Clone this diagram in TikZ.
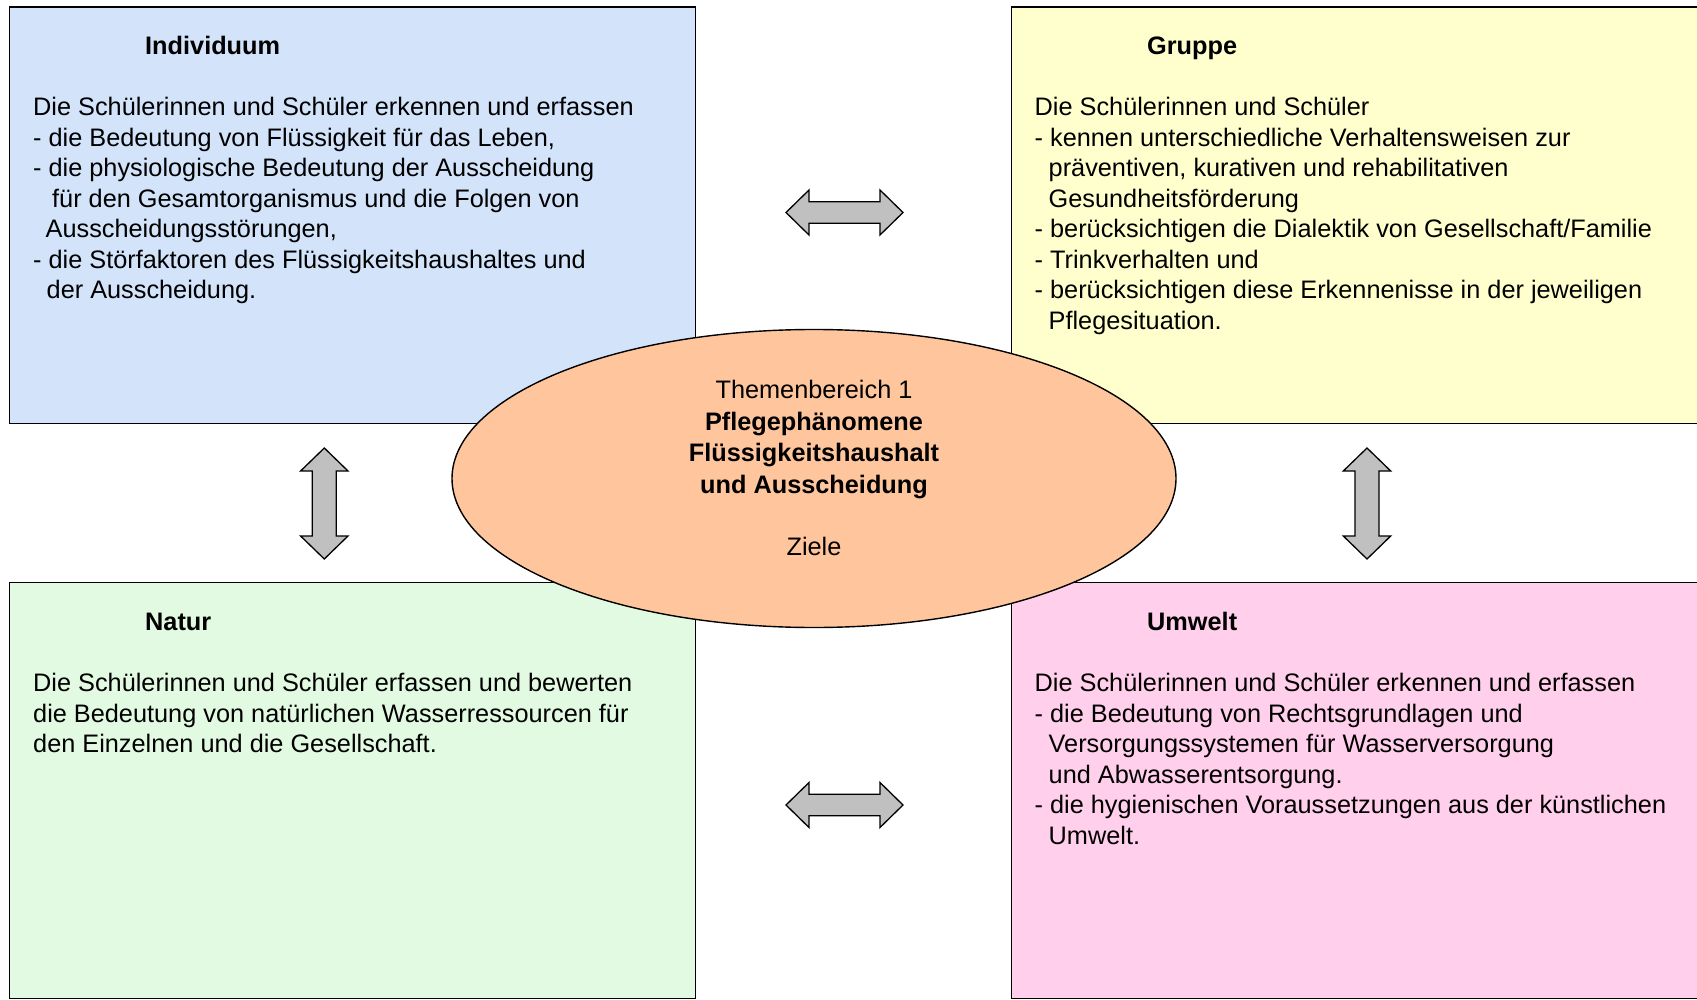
\documentclass[tikz,border=0pt]{standalone}
\usepackage{fontspec}
\setmainfont{Liberation Sans}
\usetikzlibrary{shapes.geometric}
\definecolor{cblue}{RGB}{210,227,250}
\definecolor{cyellow}{RGB}{255,255,205}
\definecolor{cgreen}{RGB}{226,250,226}
\definecolor{cpink}{RGB}{255,207,235}
\definecolor{cpeach}{RGB}{255,198,158}
\definecolor{cgray}{RGB}{192,192,192}
\newcommand\ctrline[1]{\hbox to 420pt{\hfil #1\hfil}}
\tikzset{
  box/.style={draw=black, line width=1.4pt, anchor=north west, inner sep=0pt, minimum width=686pt, minimum height=416.5pt},
  txt/.style={inner sep=0pt, font={\fontsize{25.3pt}{30.5pt}\selectfont}, anchor=base west},
  ttl/.style={inner sep=0pt, font={\fontsize{25.3pt}{30.5pt}\selectfont\bfseries}, anchor=base west},
  blockarrow/.style={draw=black, fill=cgray, line width=1.3pt, line join=miter},
  harr/.pic={\draw[blockarrow] (-58.5,0) -- (-35.5,-22.5) -- (-35.5,-10.8) -- (35.5,-10.8) -- (35.5,-22.5) -- (58.5,0) -- (35.5,22.5) -- (35.5,10.8) -- (-35.5,10.8) -- (-35.5,22.5) -- cycle;},
  varr/.pic={\draw[blockarrow] (0,-55.5) -- (23.7,-32.5) -- (12,-32.5) -- (12,32.5) -- (23.7,32.5) -- (0,55.5) -- (-23.7,32.5) -- (-12,32.5) -- (-12,-32.5) -- (-23.7,-32.5) -- cycle;}
}
\begin{document}
\begin{tikzpicture}[x=1pt,y=-1pt]
\useasboundingbox (0,0) rectangle (1697,1000);
\fill[white] (0,0) rectangle (1697,1000);
\begin{scope}
\clip (0,0) rectangle (1697,1000);
\node[box, fill=cblue] (ind) at (9,6.5) {};
\node[box, fill=cyellow, minimum width=700pt] (grp) at (1011,6.5) {};
\node[box, fill=cgreen, minimum height=416pt] (nat) at (9,582) {};
\node[box, fill=cpink, minimum width=700pt, minimum height=416pt] (umw) at (1011,582) {};

\pic (a1) at (844.5,212.5) {harr};
\pic (a2) at (844.5,805) {harr};
\pic (a3) at (324.3,503.5) {varr};
\pic (a4) at (1367,503.5) {varr};

\node[ellipse, draw=black, line width=1.4pt, fill=cpeach, inner sep=0pt, minimum width=724pt, minimum height=298pt] (ell) at (814,478.5) {};
\end{scope}

\node[ttl] (indt) at (145,54.5) {Individuum};
\node[txt] (indb) at (33,116) {\vtop{%
\hbox{Die Schülerinnen und Schüler erkennen und erfassen}
\hbox{- die Bedeutung von Flüssigkeit für das Leben,}
\hbox{- die physiologische Bedeutung der Ausscheidung}
\hbox{\hspace*{19pt}für den Gesamtorganismus und die Folgen von}
\hbox{\hspace*{12.5pt}Ausscheidungsstörungen,}
\hbox{- die Störfaktoren des Flüssigkeitshaushaltes und}
\hbox{\hspace*{13.5pt}der Ausscheidung.}}};

\node[ttl] (grpt) at (1147,54.5) {Gruppe};
\node[txt] (grpb) at (1034.5,116) {\vtop{%
\hbox{Die Schülerinnen und Schüler}
\hbox{- kennen unterschiedliche Verhaltensweisen zur}
\hbox{\hspace*{14pt}präventiven, kurativen und rehabilitativen}
\hbox{\hspace*{14pt}Gesundheitsförderung}
\hbox{- berücksichtigen die Dialektik von Gesellschaft/Familie}
\hbox{- Trinkverhalten und}
\hbox{- berücksichtigen diese Erkennenisse in der jeweiligen}
\hbox{\hspace*{14pt}Pflegesituation.}}};

\node[ttl] (natt) at (145,630) {Natur};
\node[txt] (natb) at (33,691.5) {\vtop{%
\hbox{Die Schülerinnen und Schüler erfassen und bewerten}
\hbox{die Bedeutung von natürlichen Wasserressourcen für}
\hbox{den Einzelnen und die Gesellschaft.}}};

\node[ttl] (umwt) at (1147,630) {Umwelt};
\node[txt] (umwb) at (1034.5,691.5) {\vtop{%
\hbox{Die Schülerinnen und Schüler erkennen und erfassen}
\hbox{- die Bedeutung von Rechtsgrundlagen und}
\hbox{\hspace*{14pt}Versorgungssystemen für Wasserversorgung}
\hbox{\hspace*{14pt}und Abwasserentsorgung.}
\hbox{- die hygienischen Voraussetzungen aus der künstlichen}
\hbox{\hspace*{14pt}Umwelt.}}};

\node[inner sep=0pt, anchor=base, font={\fontsize{25.3pt}{31.4pt}\selectfont}] (ellt) at (814,398.8) {\vtop{%
\ctrline{Themenbereich 1}
\ctrline{\bfseries Pflegephänomene}
\ctrline{\bfseries Flüssigkeitshaushalt}
\ctrline{\bfseries und Ausscheidung}
\ctrline{}
\ctrline{Ziele}}};
\end{tikzpicture}
\end{document}
